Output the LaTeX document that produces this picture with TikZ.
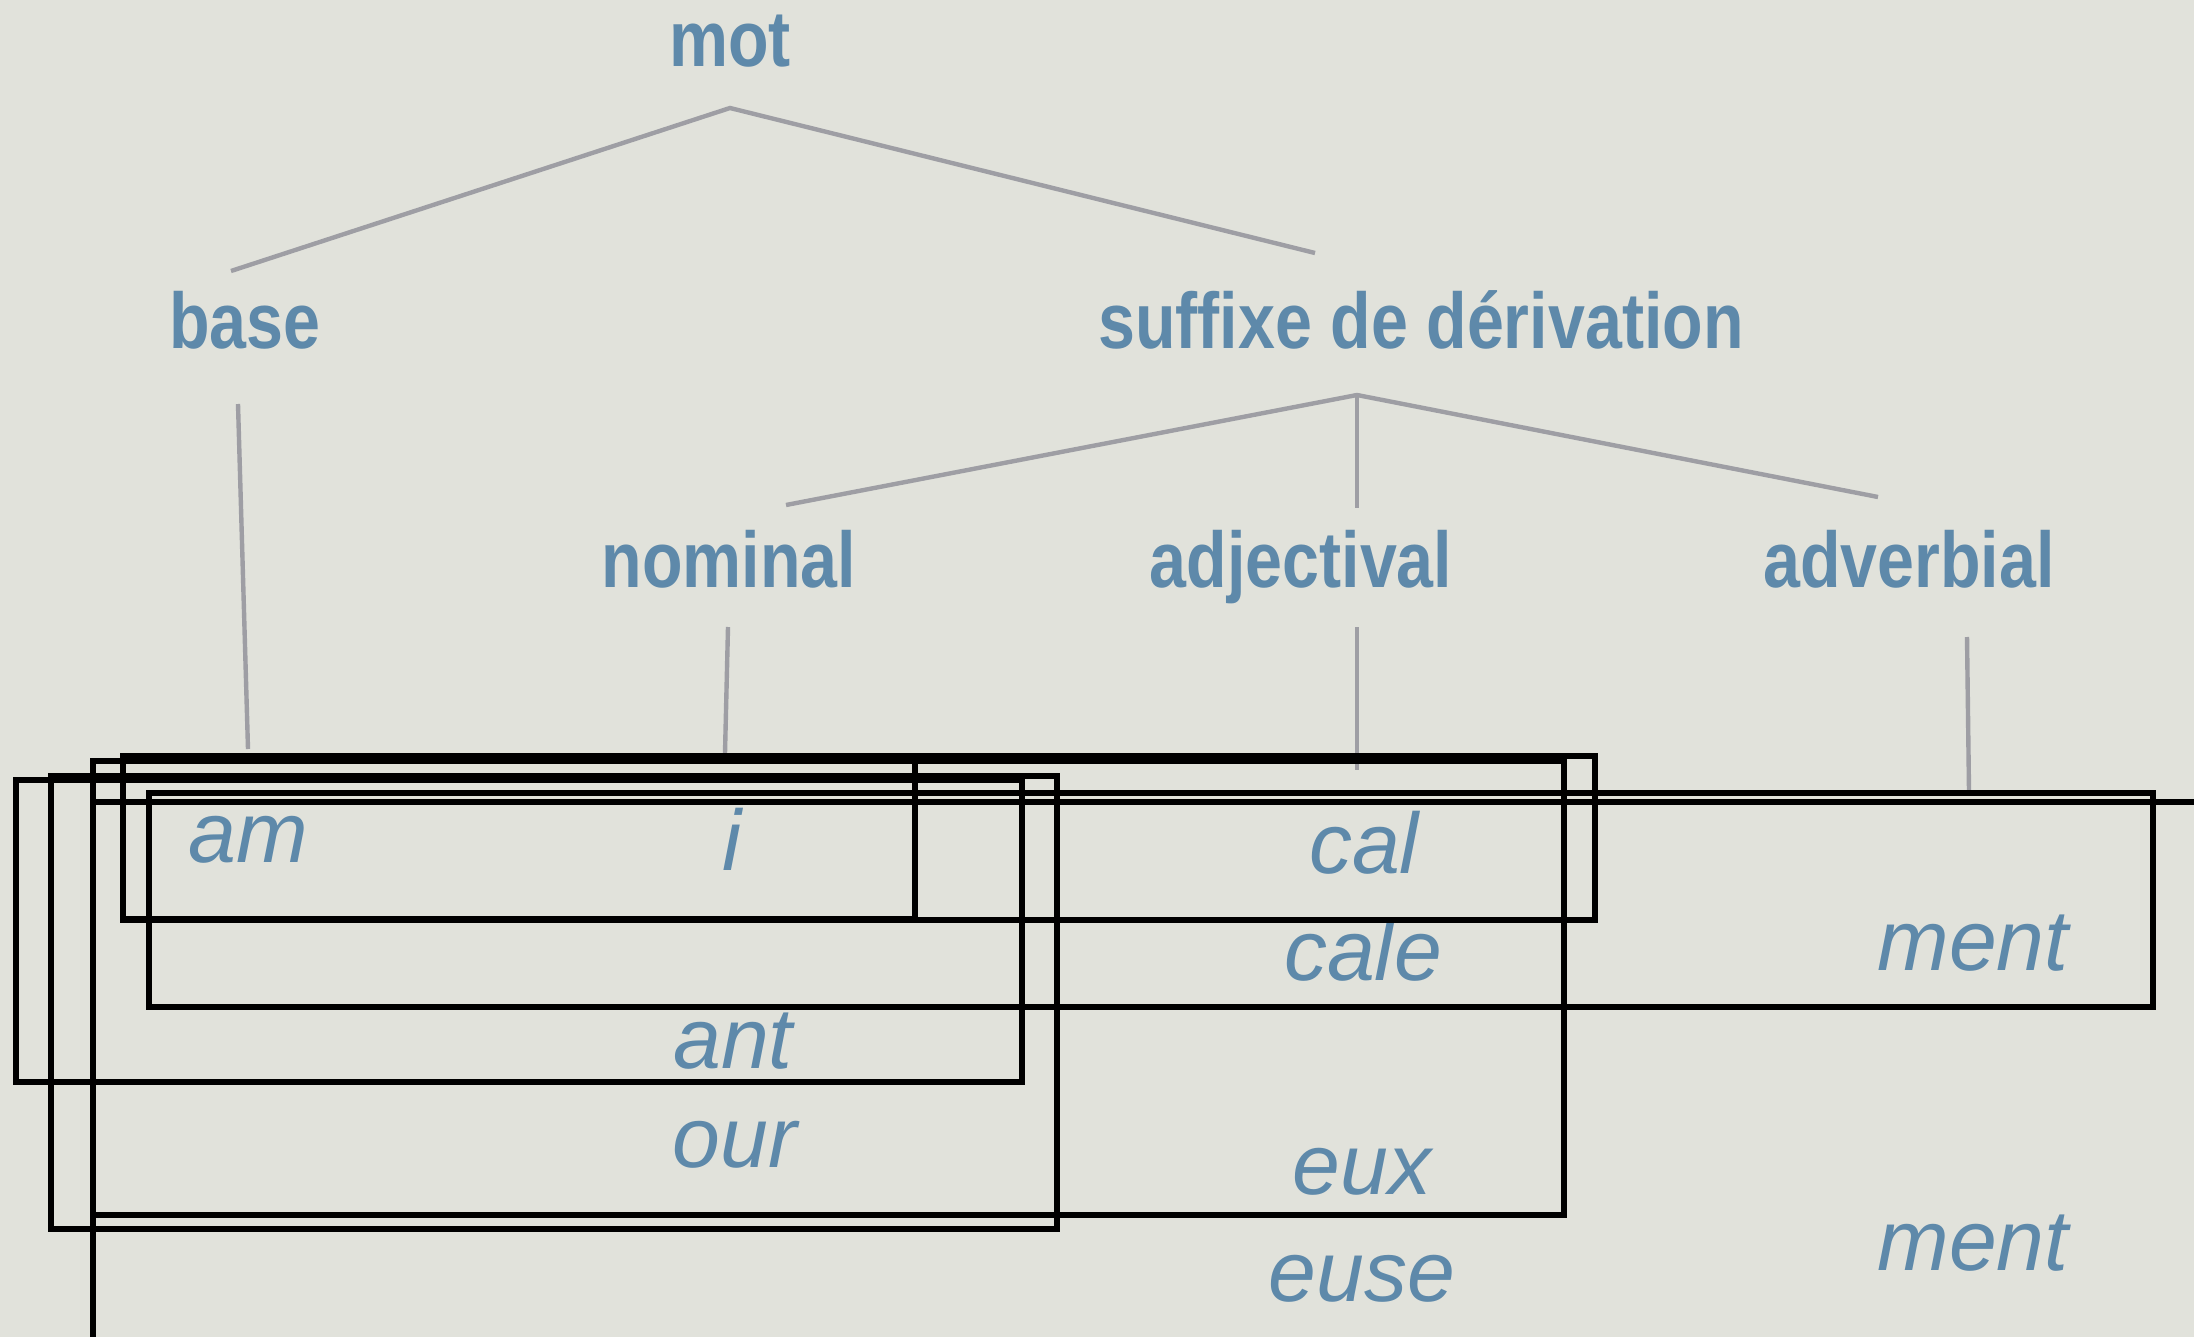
\documentclass[tikz,border=0pt]{standalone}
\usepackage{fontspec}
\newfontfamily\upfont{Liberation Sans}[FakeStretch=0.84]
\newfontfamily\itfont{Liberation Sans}
\definecolor{bg}{HTML}{E1E2DB}
\definecolor{txt}{HTML}{5E89AA}
\definecolor{tree}{HTML}{9E9EA4}
\tikzset{
  lab/.style={anchor=base, inner sep=0pt, text=txt, font=\upfont\bfseries\fontsize{39.5}{40}\selectfont},
  morph/.style={anchor=base, inner sep=0pt, text=txt, font=\itfont\itshape\fontsize{43}{44}\selectfont},
  branch/.style={draw=tree, line width=2.2pt},
  box/.style={draw=black, line width=2.6pt}
}
\begin{document}
\begin{tikzpicture}[x=0.5pt, y=-0.5pt]
\useasboundingbox (0,0) rectangle (2194,1337);
\clip (0,0) rectangle (2194,1337);
\fill[bg] (0,0) rectangle (2194,1337);

% labels
\node[lab] (mot) at (730,67) {mot};
\node[lab] (base) at (245,348) {base};
\node[lab] (suff) at (1421,348) {suffixe de dérivation};
\node[lab] (nom) at (729,587) {nominal};
\node[lab] (adj) at (1301,587) {adjectival};
\node[lab] (adv) at (1909,587) {adverbial};

% morphemes
\node[morph] (am) at (248,862) {am};
\node[morph] (i) at (732,870) {i};
\node[morph] (cal) at (1364,873) {cal};
\node[morph] (cale) at (1363,980) {cale};
\node[morph] (ment1) at (1973,970) {ment};
\node[morph] (ant) at (733,1068) {ant};
\node[morph] (our) at (735,1167) {our};
\node[morph] (eux) at (1362,1194) {eux};
\node[morph] (euse) at (1362,1301) {euse};
\node[morph] (ment2) at (1973,1270) {ment};

% tree coordinates
\coordinate (motT) at (730,108);
\coordinate (baseU) at (231,271);
\coordinate (suffU) at (1315,253);
\coordinate (baseD) at (238,404);
\coordinate (amU) at (248,749);
\coordinate (suffT) at (1357,395);
\coordinate (nomU) at (786,505);
\coordinate (adjU) at (1357,508);
\coordinate (advU) at (1878,497);
\coordinate (nomD) at (728,627);
\coordinate (iU) at (725,753);
\coordinate (adjD) at (1357,627);
\coordinate (calU) at (1357,770);
\coordinate (advD) at (1967,637);
\coordinate (mentU) at (1969,792);

\draw[branch] (baseU) -- (motT) -- (suffU);
\draw[branch] (baseD) -- (amU);
\draw[branch] (nomU) -- (suffT) -- (advU);
\draw[branch] (suffT) -- (adjU);
\draw[branch] (nomD) -- (iU);
\draw[branch] (adjD) -- (calU);
\draw[branch] (advD) -- (mentU);

% boxes
\draw[box] (123,756) rectangle (915,919);
\draw[box] (123,756) rectangle (1595,920);
\draw[box] (93,761) rectangle (1564,1215);
\draw[box] (51,776) rectangle (1057,1229);
\draw[box] (16,780) rectangle (1022,1082);
\draw[box] (149,793) rectangle (2153,1007);
\draw[box] (2220,802) -- (93,802) -- (93,1360);
\end{tikzpicture}
\end{document}
